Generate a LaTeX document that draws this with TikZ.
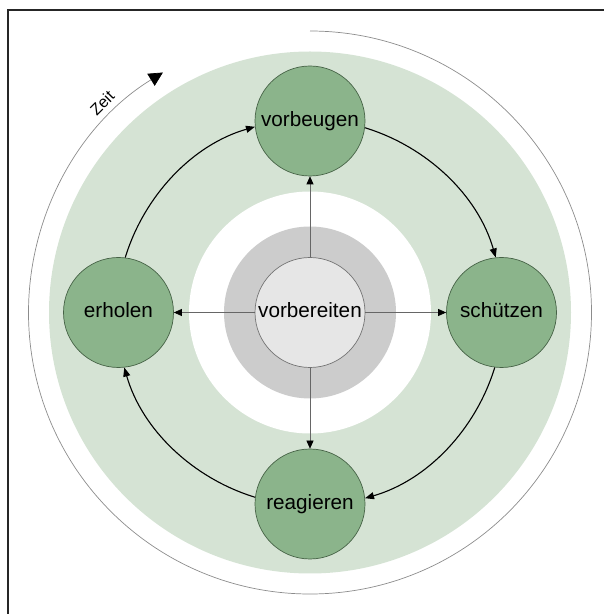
\documentclass[tikz,border=0pt]{standalone}
\usepackage{fontspec}
\setmainfont{Liberation Sans}
\usepackage{tikz}
\usetikzlibrary{calc}
\usetikzlibrary{arrows.meta}
\tikzset{>={Triangle[width=7pt,length=9pt]}}
\definecolor{ringgreen}{RGB}{213,227,212}
\definecolor{nodegreen}{RGB}{139,180,139}
\definecolor{nodeedge}{RGB}{70,98,70}
\definecolor{coregray}{RGB}{230,230,230}
\definecolor{ringgray}{RGB}{204,204,204}

\begin{document}
\begin{tikzpicture}[x=1pt,y=1pt]
        \tikzstyle{phase} = [draw=nodeedge, line width=0.7pt, fill=nodegreen, circle, minimum size=110pt, inner sep=0pt, font=\fontsize{20.7}{24}\selectfont, text height=15pt, text depth=4.3pt]
        \tikzstyle{core} = [draw=black!55, line width=0.7pt, fill=coregray, circle, minimum size=110pt, inner sep=0pt, font=\fontsize{20.7}{24}\selectfont, text height=15pt, text depth=4.3pt]
        \tikzstyle{spoke} = [draw=black!60, line width=0.7pt, -{Triangle[width=7pt,length=8pt,color=black]}]
        \tikzstyle{cycle} = [draw=black, line width=1.1pt, ->, looseness=0.9]
        \tikzstyle{timeline} = [draw=black!45, line width=0.7pt, -{Triangle[width=14pt,length=14pt,color=black]}]

        \useasboundingbox (0,0) rectangle (604,614);
        \draw[line width=1.3pt, black!85] (604,604) -- (8,604) -- (8,0);

        % rings behind the nodes
        \coordinate (mid) at (310,301.5);
        \fill[ringgreen] (mid) circle (261);
        \fill[white] (mid) circle (121);
        \fill[ringgray] (mid) circle (86);

        \node[core] (prep) at (mid) {vorbereiten};
        \node[phase] (prevent) at (310,493) {vorbeugen};
        \node[phase] (protect) at (501.5,301.5) {schützen};
        \node[phase] (react) at (310,110) {reagieren};
        \node[phase] (recover) at (118.5,301.5) {erholen};

        % time arrow
        \coordinate (tstart) at ($(mid)+(90:281.5)$);
        \draw[timeline] (tstart) arc[start angle=90, end angle=-238.5, radius=281.5];
        \node[rotate=45, inner sep=1pt, font=\fontsize{16}{19}\selectfont] (zeit) at ($(mid)+(134.8:295)$) {Zeit};

        \path
        (prep) edge[spoke] (prevent)
        (prep) edge[spoke] (protect)
        (prep) edge[spoke] (react)
        (prep) edge[spoke] (recover)
        ;

        \path
        (recover.83) edge[cycle, out=73, in=196] (prevent.186)
        (prevent.-7) edge[cycle, out=-17, in=106] (protect.96)
        (protect.-97) edge[cycle, out=-107, in=16] (react.6)
        (react.173) edge[cycle, out=163, in=-74] (recover.-84)
        ;
\end{tikzpicture}
\end{document}
